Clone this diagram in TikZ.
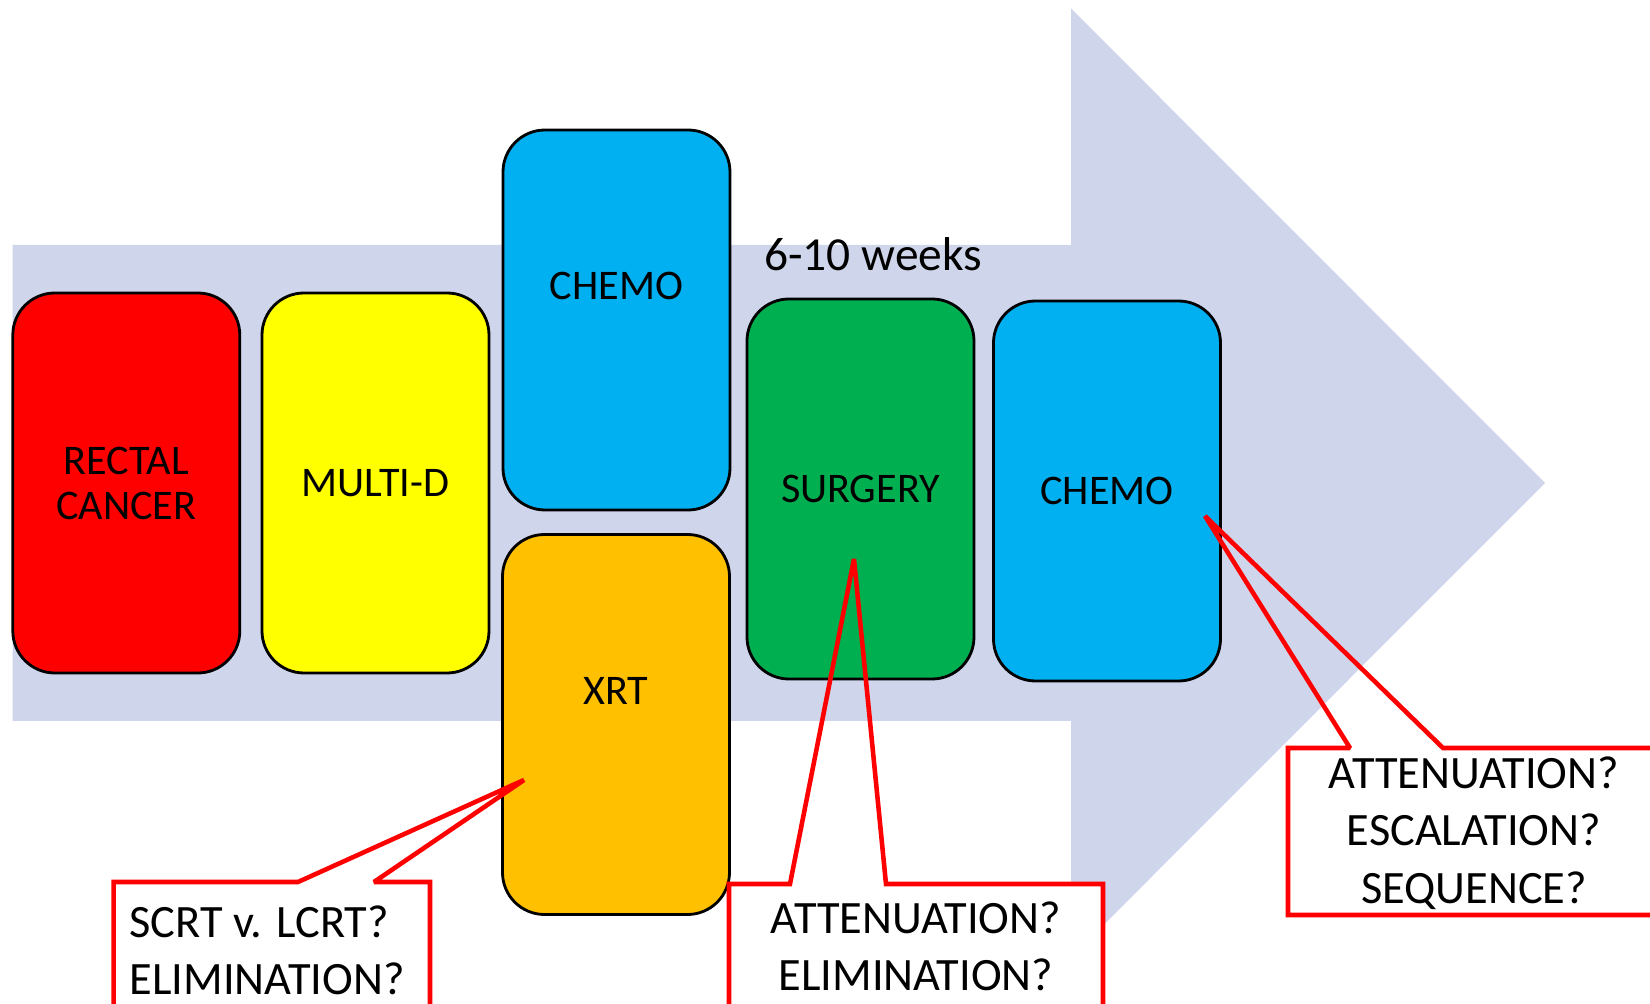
\documentclass[tikz,border=0pt]{standalone}
\usepackage{fontspec}
\setmainfont{Carlito}
\definecolor{arrowgray}{RGB}{207,213,234}
\definecolor{cancerred}{RGB}{255,0,0}
\definecolor{multiyellow}{RGB}{255,255,0}
\definecolor{chemoblue}{RGB}{0,176,240}
\definecolor{xrtorange}{RGB}{255,192,0}
\definecolor{surggreen}{RGB}{0,176,80}
\tikzset{
    stage/.style={draw, line width=0.8pt, rounded corners=0.42cm, minimum width=2.27cm, minimum height=3.8cm, inner sep=0pt, align=center, font=\fontsize{12}{12.8}\selectfont},
    stagetext/.style={inner sep=0pt, font=\fontsize{12}{12.8}\selectfont},
    callout/.style={draw=red, line width=1.3pt, miter limit=2},
    note/.style={inner sep=0pt, font=\fontsize{13.2}{16.3}\selectfont},
}
\begin{document}
\begin{tikzpicture}
        \useasboundingbox (0, 0) rectangle (16.5, 10.04);
        \clip (0, 0) rectangle (16.5, 10.04);
        \fill[arrowgray] (0.126, 7.59) -- (10.71, 7.59) -- (10.71, 9.956) -- (15.45, 5.21) -- (10.71, 0.464) -- (10.71, 2.83) -- (0.126, 2.83) -- cycle;

        \draw (1.263, 5.21) node[stage, fill=cancerred] (rectal) {RECTAL\\CANCER};
        \draw (3.755, 5.21) node[stage, fill=multiyellow] (multid) {MULTI-D};
        \draw (6.165, 6.84) node[stage, fill=chemoblue] (chemoA) {};
        \draw (6.16, 2.795) node[stage, fill=xrtorange] (xrt) {};
        \draw (8.605, 5.15) node[stage, fill=surggreen] (surgery) {SURGERY};
        \draw (11.07, 5.13) node[stage, fill=chemoblue] (chemoB) {CHEMO};

        \node[stagetext] (chemoAlabel) at ([yshift=0.34cm]chemoA.center) {CHEMO};
        \node[stagetext] (xrtlabel) at ([yshift=0.34cm]xrt.center) {XRT};
        \node[inner sep=0pt, font=\fontsize{13.5}{16}\selectfont] (weeks) at (8.73, 7.50) {6-10 weeks};

        \coordinate (tipXrt) at (5.24, 2.24);
        \coordinate (tipSurg) at (8.54, 4.45);
        \coordinate (tipChemo) at (12.05, 4.88);

        \fill[white] (1.136, 1.22) rectangle (4.30, -0.3);
        \draw[callout] (2.98, 1.22) -- (1.136, 1.22) -- (1.136, -0.3) -- (4.30, -0.3) -- (4.30, 1.22) -- (3.74, 1.22) -- (tipXrt) -- cycle;
        \node[note, anchor=west, align=left] (qXrt) at (1.29, 0.535) {SCRT v. LCRT?\\ELIMINATION?};

        \fill[white] (7.29, 1.20) rectangle (11.03, -0.3);
        \draw[callout] (7.90, 1.20) -- (7.29, 1.20) -- (7.29, -0.3) -- (11.03, -0.3) -- (11.03, 1.20) -- (8.86, 1.20) -- (tipSurg) -- cycle;
        \node[note, align=center] (qSurg) at (9.16, 0.58) {ATTENUATION?\\ELIMINATION?};

        \fill[white] (12.88, 2.56) rectangle (16.7, 0.89);
        \draw[callout] (13.50, 2.56) -- (12.88, 2.56) -- (12.88, 0.89) -- (16.7, 0.89) -- (16.7, 2.56) -- (14.43, 2.56) -- (tipChemo) -- cycle;
        \node[note, align=center] (qChemo) at (14.74, 1.71) {ATTENUATION?\\ESCALATION?\\SEQUENCE?};
\end{tikzpicture}
\end{document}
